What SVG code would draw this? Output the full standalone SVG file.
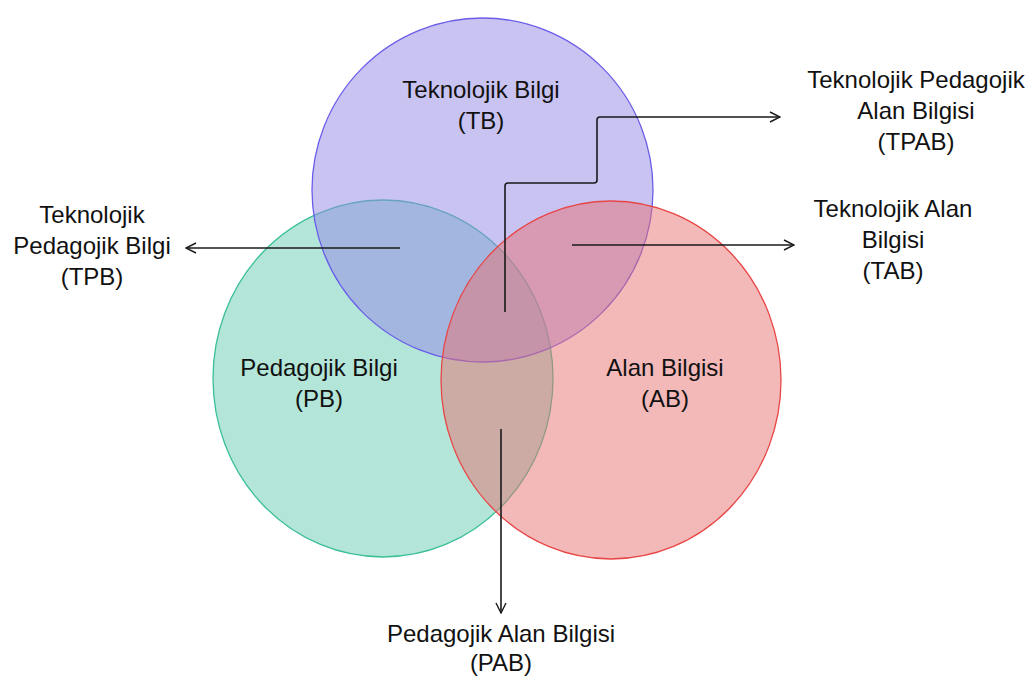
<svg xmlns="http://www.w3.org/2000/svg" width="1036" height="683" viewBox="0 0 1036 683">
<style>
text{font-family:"Liberation Sans",Arial,sans-serif;font-size:24px;fill:#111;text-anchor:middle}
.c{fill-opacity:0.5;stroke-width:1.3}
.a{fill:none;stroke:#1a1a1a;stroke-width:1.6}
</style>
<defs>
<marker id="arr" viewBox="0 0 12 12" refX="11" refY="6" markerWidth="12" markerHeight="12" markerUnits="userSpaceOnUse" orient="auto">
<path d="M1,1 L11,6 L1,11" fill="none" stroke="#1a1a1a" stroke-width="1.4"/>
</marker>
</defs>
<rect width="1036" height="683" fill="#fff"/>
<g id="pb"><ellipse class="c" cx="383" cy="378.5" rx="170" ry="178.5" fill="#67cbb1" stroke="#3bbf98"/>
<text x="319" y="376">Pedagojik Bilgi</text><text x="319" y="407">(PB)</text></g>
<g id="tb"><ellipse class="c" cx="482.5" cy="190" rx="170.5" ry="172" fill="#9387e5" stroke="#6a5ee8"/>
<text x="481" y="98">Teknolojik Bilgi</text><text x="481" y="129">(TB)</text></g>
<g id="ab"><ellipse class="c" cx="611" cy="380" rx="170" ry="179" fill="#e77171" stroke="#e84545"/>
<text x="665" y="376">Alan Bilgisi</text><text x="665" y="407">(AB)</text></g>
<g id="connectors">
<path class="a" d="M505,312 V186 Q505,183 508,183 H594 Q597,183 597,180 V120 Q597,117 600,117 H780" marker-end="url(#arr)"/>
<path class="a" d="M572,245 H794" marker-end="url(#arr)"/>
<path class="a" d="M400,248 H186" marker-end="url(#arr)"/>
<path class="a" d="M501,429 V613" marker-end="url(#arr)"/>
</g>
<g id="tpab"><text x="916" y="88">Teknolojik Pedagojik</text><text x="916" y="119">Alan Bilgisi</text><text x="916" y="150">(TPAB)</text></g>
<g id="tab"><text x="893" y="217">Teknolojik Alan</text><text x="893" y="248">Bilgisi</text><text x="893" y="279">(TAB)</text></g>
<g id="tpb"><text x="92" y="223">Teknolojik</text><text x="92" y="254">Pedagojik Bilgi</text><text x="92" y="285">(TPB)</text></g>
<g id="pab"><text x="501" y="642">Pedagojik Alan Bilgisi</text><text x="501" y="671">(PAB)</text></g>
</svg>
